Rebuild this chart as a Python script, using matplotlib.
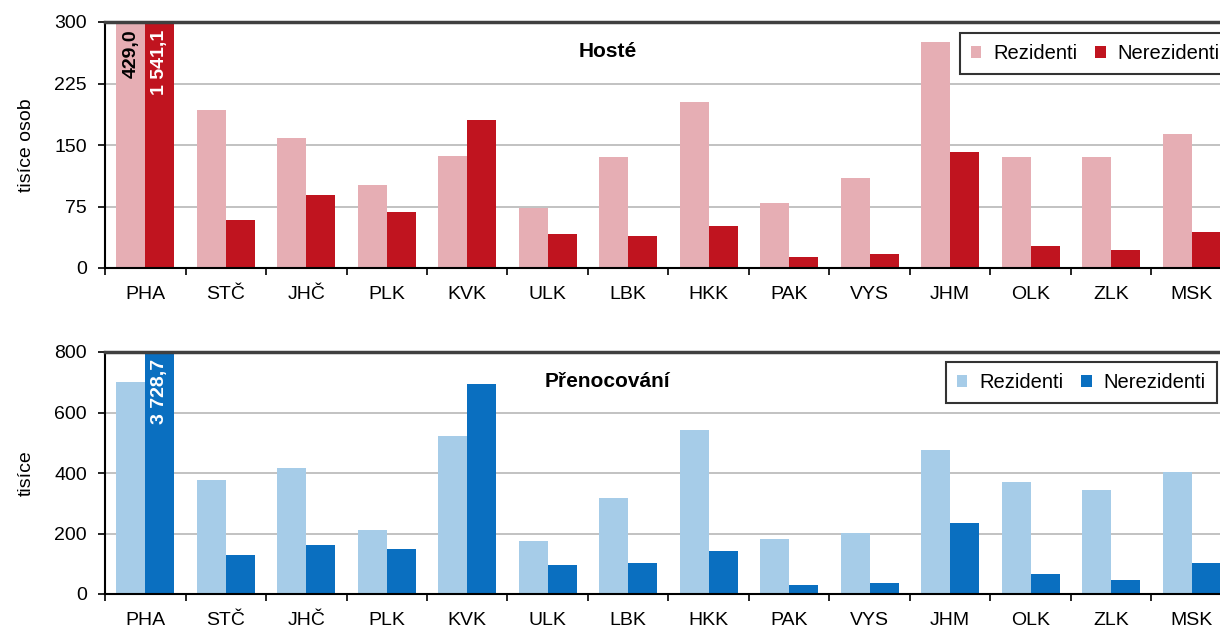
import numpy as np
import matplotlib
matplotlib.use("Agg")
import matplotlib.pyplot as plt

plt.rcParams['font.family'] = ['Liberation Sans', 'DejaVu Sans']

# Regions
regions = ["PHA", "STČ", "JHČ", "PLK", "KVK", "ULK", "LBK", "HKK",
           "PAK", "VYS", "JHM", "OLK", "ZLK", "MSK"]

# Hosté (tisíce osob)
guests_res = [429.0, 193, 158, 101, 137, 73, 135, 202, 79, 110, 276, 135, 135, 163]
guests_nonres = [1541.1, 58, 89, 68, 180, 41, 39, 51, 13, 17, 141, 27, 22, 44]

# Přenocování (tisíce)
nights_res = [701, 377, 416, 211, 522, 175, 317, 542, 182, 202, 476, 370, 344, 403]
nights_nonres = [3728.7, 129, 162, 149, 694, 96, 102, 142, 30, 36, 235, 66, 46, 102]

W, H = 1220, 628
fig = plt.figure(figsize=(W / 100, H / 100), dpi=100)


def panel(rect, res, nonres, colors, ymax, yticks, ylabel, title, leg_xy, labels):
    ax = fig.add_axes(rect)
    x = np.arange(len(regions))
    bw = 0.36
    ax.bar(x - bw / 2, res, bw, color=colors[0], label="Rezidenti", zorder=2)
    ax.bar(x + bw / 2, nonres, bw, color=colors[1], label="Nerezidenti", zorder=2)
    ax.set_xlim(-0.5, len(regions) - 0.5)
    ax.set_ylim(0, ymax)
    ax.set_yticks(yticks)
    ax.yaxis.grid(True, color='#b8b8b8', linewidth=1.2, zorder=0)
    ax.set_axisbelow(True)
    ax.set_xticks(x)
    ax.set_xticklabels(regions, fontsize=14)
    ax.set_xticks(np.arange(-0.5, len(regions)), minor=True)
    ax.tick_params(axis='x', which='major', length=0, pad=13)
    ax.tick_params(axis='x', which='minor', length=5, width=1.2, direction='out')
    ax.tick_params(axis='y', labelsize=14, length=5, width=1.2, direction='out', pad=8)
    for s in ['left', 'bottom']:
        ax.spines[s].set_linewidth(1.5)
        ax.spines[s].set_color('black')
    ax.spines['top'].set_linewidth(2.5)
    ax.spines['top'].set_color('#404040')
    ax.spines['right'].set_visible(False)
    ax.set_ylabel(ylabel, fontsize=14, labelpad=14)
    ax.text(0.446, 0.88, title, transform=ax.transAxes, fontsize=15,
            fontweight='bold', ha='center', va='center')
    leg = ax.legend(loc='upper left', bbox_to_anchor=leg_xy,
                    bbox_transform=fig.transFigure, ncol=2,
                    fontsize=14.5, frameon=True, fancybox=False, edgecolor='black',
                    handlelength=0.5, handleheight=0.5, handletextpad=0.6,
                    columnspacing=0.9, borderpad=0.55, borderaxespad=0)
    leg.get_frame().set_linewidth(1.5)
    for lx, val, col, txt in labels:
        ax.text(lx, ymax * 0.97, txt, rotation=90, ha='center', va='top',
                color=col, fontsize=14, fontweight='bold')
    return ax


def fmt(v):
    s = f"{v:,.1f}".replace(",", " ").replace(".", ",")
    return s


panel([105 / W, 1 - 268 / H, 14 * 80.5 / W, (268 - 22) / H],
      guests_res, guests_nonres, ['#e6aeb4', '#c0141f'],
      300, [0, 75, 150, 225, 300], "tisíce osob", "Hosté",
      (960 / W, 1 - 33 / H),
      [(-0.18, guests_res[0], 'black', fmt(guests_res[0])),
       (0.18, guests_nonres[0], 'white', fmt(guests_nonres[0]))])

panel([105 / W, 1 - 594 / H, 14 * 80.5 / W, (594 - 352) / H],
      nights_res, nights_nonres, ['#a6cce8', '#0a6fc0'],
      800, [0, 200, 400, 600, 800], "tisíce", "Přenocování",
      (946 / W, 1 - 362 / H),
      [(0.18, nights_nonres[0], 'white', fmt(nights_nonres[0]))])

fig.savefig("out.png", dpi=100)
